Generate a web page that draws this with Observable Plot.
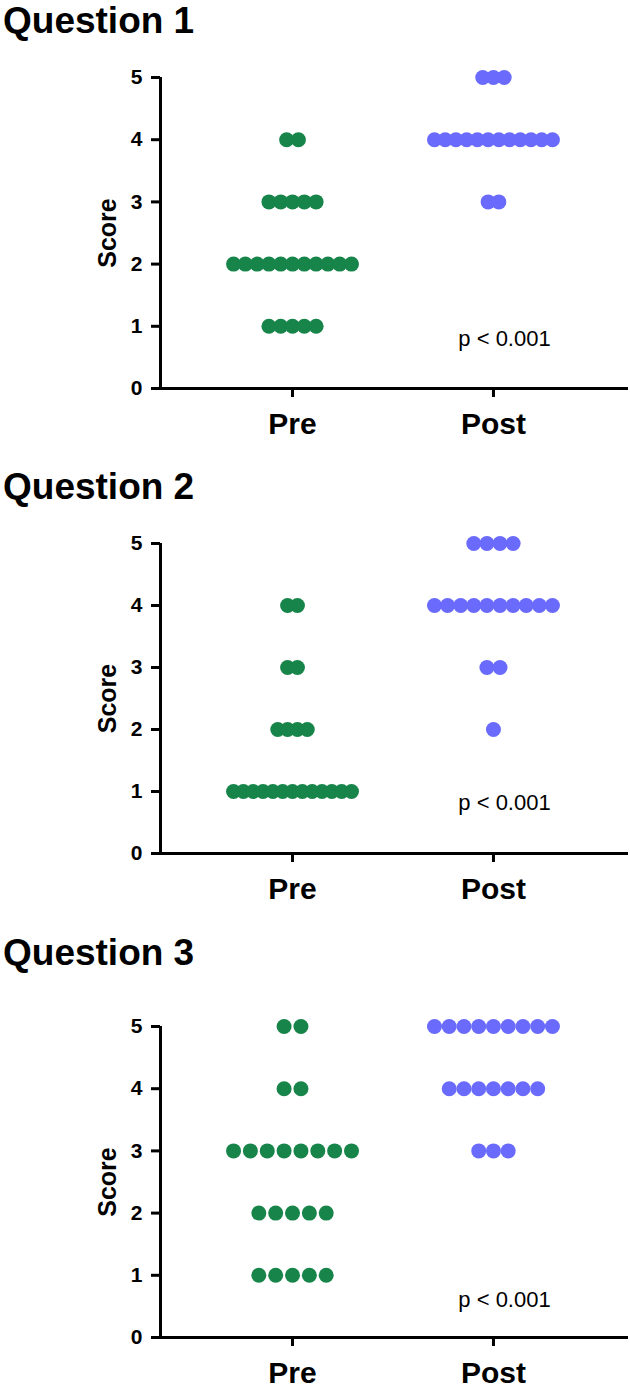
<!DOCTYPE html>
<html><head><meta charset="utf-8">
<script src="https://cdn.jsdelivr.net/npm/d3@7"></script>
<script src="https://cdn.jsdelivr.net/npm/@observablehq/plot@0.6"></script>
<style>
body{margin:0;background:#fff;font-family:"Liberation Sans",Arial,sans-serif;}
#root{position:relative;width:630px;height:1389px;overflow:hidden;background:#fff}
.title{position:absolute;left:3px;font-weight:bold;font-size:37px;line-height:normal;color:#000;white-space:nowrap}
.panel{position:absolute;left:0}
</style></head><body><div id="root"></div>
<script>
// ---- data ----
const groups = ["Pre", "Post"];
const scores = [1, 2, 3, 4, 5];
const yTicks = [0, 1, 2, 3, 4, 5];
const titles = ["Question 1", "Question 2", "Question 3"];
// number of respondents at each score (1..5)
const q1Pre  = [5, 11, 5, 2, 0];
const q1Post = [0, 0, 2, 12, 3];
const q2Pre  = [13, 4, 2, 2, 0];
const q2Post = [0, 1, 2, 10, 4];
const q3Pre  = [5, 5, 8, 2, 2];
const q3Post = [0, 0, 3, 7, 9];
const pLabels = ["p < 0.001", "p < 0.001", "p < 0.001"];
const colors = ["#17844a", "#6a6afc"];

// ---- layout ----
const counts = [[q1Pre, q1Post], [q2Pre, q2Post], [q3Pre, q3Post]];
const layout = [
  {titleTop: 0,   svgTop: 40,  y5: 77,   y0: 388,  height: 420, pY: 0.80},
  {titleTop: 466, svgTop: 506, y5: 543,  y0: 853,  height: 420, pY: 0.82},
  {titleTop: 932, svgTop: 989, y5: 1026, y0: 1337, height: 400, pY: 0.60}
];
const W = 630;
const xDomain = [-0.657, 1.672];
const rowSpan = 0.587; // widest row span in x units
const root = document.getElementById("root");

counts.forEach((pair, k) => {
  const L = layout[k];
  const t = document.createElement("div");
  t.className = "title";
  t.style.top = L.titleTop + "px";
  t.textContent = titles[k];
  root.appendChild(t);

  const dots = [];
  pair.forEach((c, g) => {
    const maxN = d3.max(c);
    const step = rowSpan / (maxN - 1);
    c.forEach((n, si) => {
      for (let i = 0; i < n; i++) {
        dots.push({group: g, x: g + (i - (n - 1) / 2) * step, y: scores[si]});
      }
    });
  });

  const svg = Plot.plot({
    width: W,
    height: L.height,
    marginLeft: 160,
    marginRight: 2,
    marginTop: L.y5 - L.svgTop,
    marginBottom: L.svgTop + L.height - L.y0,
    style: {fontFamily: "'Liberation Sans', Arial, sans-serif", fontWeight: "bold", color: "#000", background: "transparent", overflow: "visible"},
    x: {domain: xDomain},
    y: {domain: [0, 5]},
    marks: [
      Plot.ruleY([0], {strokeWidth: 3}),
      Plot.ruleX([xDomain[0]], {strokeWidth: 3}),
      Plot.axisY({ticks: yTicks, tickFormat: d3.format("d"), tickSize: 9, tickPadding: 9, strokeWidth: 3, fontSize: 21, label: null}),
      Plot.axisX({ticks: [0, 1], tickFormat: i => groups[i], tickSize: 9, tickPadding: 15, strokeWidth: 3, fontSize: 30, label: null}),
      Plot.text(["Score"], {frameAnchor: "left", dx: -53, rotate: -90, textAnchor: "middle", fontSize: 25}),
      Plot.dot(dots.filter(d => d.group === 0), {x: "x", y: "y", r: 7.5, fill: colors[0], stroke: "none"}),
      Plot.dot(dots.filter(d => d.group === 1), {x: "x", y: "y", r: 7.5, fill: colors[1], stroke: "none"}),
      Plot.text([pLabels[k]], {x: 1.055, y: L.pY, fontSize: 22, fontWeight: "normal"})
    ]
  });
  svg.classList.add("panel");
  svg.style.top = L.svgTop + "px";
  svg.style.position = "absolute";
  root.appendChild(svg);
});
</script>
</body></html>
